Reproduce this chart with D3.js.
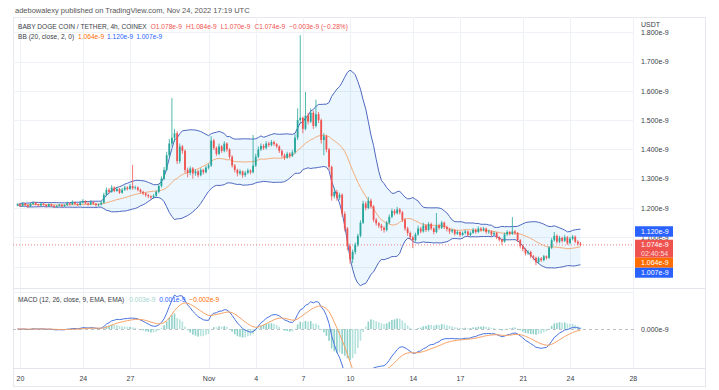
<!DOCTYPE html>
<html><head><meta charset="utf-8">
<script src="https://cdn.jsdelivr.net/npm/d3@7"></script>
<style>
html,body{margin:0;padding:0;background:#fff;}
svg{display:block;font-family:"Liberation Sans",Arial,sans-serif;}
</style></head><body>
<svg id="c" width="719" height="390"></svg>
<script>
// ---- DATA (prices in units of 1e-9 USDT, 4h candles from 2022-10-19 20:00 UTC) ----
const firstOpen = 1.210;
const closes = [
1.212,1.208,1.215,1.210,1.205,1.214,1.218,1.212,1.209,1.215,
1.211,1.206,1.213,1.208,1.204,1.207,1.211,1.206,1.210,1.216,
1.212,1.220,1.214,1.210,1.218,1.224,1.216,1.212,1.221,1.215,
1.210,1.212,1.218,1.245,1.262,1.255,1.270,1.258,1.265,1.252,
1.262,1.270,1.265,1.275,1.268,1.270,1.262,1.255,1.250,1.244,
1.240,1.236,1.242,1.255,1.275,1.300,1.330,1.380,1.420,1.440,
1.455,1.360,1.410,1.395,1.330,1.320,1.335,1.318,1.325,1.312,
1.330,1.322,1.338,1.345,1.430,1.405,1.385,1.410,1.395,1.420,
1.400,1.375,1.345,1.330,1.318,1.325,1.312,1.320,1.328,1.322,
1.345,1.375,1.400,1.412,1.405,1.420,1.415,1.425,1.418,1.410,
1.395,1.380,1.372,1.385,1.378,1.390,1.440,1.500,1.508,1.470,
1.515,1.495,1.525,1.480,1.520,1.500,1.432,1.445,1.400,1.340,
1.240,1.255,1.235,1.245,1.180,1.130,1.070,1.025,1.050,1.075,
1.105,1.150,1.215,1.200,1.225,1.205,1.160,1.148,1.140,1.132,
1.125,1.150,1.170,1.190,1.182,1.195,1.185,1.160,1.130,1.115,
1.100,1.090,1.110,1.130,1.120,1.140,1.125,1.145,1.130,1.118,
1.140,1.132,1.150,1.135,1.128,1.120,1.125,1.112,1.118,1.108,
1.115,1.120,1.108,1.115,1.125,1.118,1.130,1.125,1.130,1.118,
1.120,1.110,1.115,1.100,1.092,1.085,1.110,1.118,1.112,1.120,
1.115,1.090,1.070,1.060,1.045,1.050,1.035,1.030,1.015,1.028,
1.022,1.035,1.030,1.065,1.090,1.105,1.085,1.098,1.088,1.100,
1.080,1.095,1.102,1.085,1.078,1.074
];
const highs = [
1.216,1.215,1.219,1.218,1.213,1.217,1.222,1.220,1.214,1.218,
1.217,1.213,1.216,1.215,1.210,1.210,1.214,1.213,1.213,1.222,
1.218,1.226,1.222,1.216,1.224,1.230,1.226,1.219,1.226,1.223,
1.217,1.216,1.224,1.252,1.270,1.268,1.278,1.274,1.272,1.268,
1.268,1.276,1.274,1.282,1.347,1.276,1.274,1.266,1.259,1.253,
1.248,1.243,1.247,1.260,1.282,1.308,1.340,1.392,1.435,1.575,
1.470,1.462,1.420,1.415,1.400,1.338,1.342,1.340,1.332,1.330,
1.336,1.334,1.344,1.352,1.445,1.436,1.410,1.420,1.415,1.428,
1.424,1.404,1.380,1.350,1.334,1.332,1.328,1.327,1.335,1.332,
1.449,1.385,1.410,1.420,1.418,1.428,1.426,1.432,1.430,1.422,
1.414,1.400,1.386,1.392,1.390,1.398,1.452,1.540,1.790,1.512,
1.596,1.525,1.540,1.532,1.570,1.528,1.505,1.455,1.450,1.405,
1.345,1.268,1.262,1.252,1.250,1.188,1.135,1.078,1.058,1.082,
1.112,1.158,1.225,1.222,1.238,1.232,1.210,1.166,1.152,1.146,
1.138,1.156,1.178,1.198,1.196,1.204,1.200,1.190,1.165,1.136,
1.120,1.105,1.116,1.140,1.136,1.150,1.145,1.152,1.150,1.134,
1.183,1.146,1.156,1.154,1.140,1.132,1.130,1.128,1.124,1.121,
1.120,1.126,1.123,1.120,1.132,1.130,1.137,1.135,1.136,1.133,
1.126,1.124,1.120,1.118,1.104,1.096,1.116,1.124,1.122,1.169,
1.125,1.118,1.094,1.075,1.064,1.056,1.054,1.040,1.034,1.034,
1.032,1.040,1.038,1.070,1.098,1.118,1.110,1.105,1.102,1.108,
1.104,1.102,1.108,1.106,1.090,1.084
];
const lows = [
1.206,1.204,1.205,1.207,1.201,1.203,1.211,1.209,1.205,1.207,
1.208,1.203,1.204,1.205,1.200,1.202,1.205,1.203,1.204,1.208,
1.209,1.210,1.211,1.206,1.208,1.215,1.213,1.208,1.210,1.211,
1.205,1.206,1.209,1.215,1.240,1.250,1.252,1.254,1.255,1.248,
1.249,1.258,1.260,1.262,1.262,1.263,1.257,1.250,1.244,1.238,
1.234,1.230,1.232,1.238,1.250,1.270,1.295,1.325,1.372,1.410,
1.425,1.350,1.352,1.385,1.320,1.305,1.312,1.300,1.310,1.304,
1.308,1.315,1.318,1.332,1.340,1.398,1.378,1.380,1.388,1.390,
1.392,1.368,1.338,1.322,1.308,1.312,1.303,1.306,1.315,1.315,
1.318,1.340,1.370,1.395,1.398,1.400,1.408,1.410,1.412,1.404,
1.388,1.372,1.364,1.368,1.370,1.374,1.385,1.432,1.490,1.455,
1.465,1.485,1.490,1.470,1.475,1.490,1.420,1.380,1.390,1.330,
1.225,1.232,1.225,1.228,1.170,1.120,1.055,1.010,1.012,1.042,
1.068,1.100,1.145,1.192,1.196,1.198,1.152,1.140,1.132,1.122,
1.116,1.120,1.145,1.165,1.175,1.178,1.178,1.152,1.122,1.105,
1.090,1.063,1.085,1.105,1.114,1.116,1.118,1.120,1.124,1.110,
1.114,1.126,1.128,1.128,1.120,1.112,1.114,1.106,1.108,1.102,
1.104,1.110,1.102,1.104,1.112,1.112,1.115,1.119,1.120,1.112,
1.112,1.104,1.105,1.094,1.086,1.074,1.082,1.105,1.106,1.108,
1.108,1.084,1.062,1.052,1.038,1.040,1.028,1.022,1.005,1.010,
1.016,1.018,1.024,1.026,1.060,1.085,1.078,1.080,1.082,1.084,
1.074,1.076,1.090,1.080,1.072,1.070
];
const startTime = Date.UTC(2022, 9, 19, 20);
const tickDates = [[2022,9,20],[2022,9,24],[2022,9,27],[2022,10,1],[2022,10,4],[2022,10,7],[2022,10,10],[2022,10,14],[2022,10,17],[2022,10,21],[2022,10,24],[2022,10,28]];
const tickLabels = ["20","24","27","Nov","4","7","10","14","17","21","24","28"];
const priceTicks = [1.0,1.1,1.2,1.3,1.4,1.5,1.6,1.7,1.8];
const lastBar = {o:"1.078e-9", h:"1.084e-9", l:"1.070e-9", c:"1.074e-9", chg:"\u22120.003e-9 (\u22120.28%)", countdown:"02:40:54"};
const bbLegend = ["1.064e-9","1.120e-9","1.007e-9"];
const bbLast = [1.064, 1.120, 1.007];
const macdLegend = ["0.003e-9","0.001e-9","\u22120.002e-9"];

// ---- LAYOUT ----
const svg = d3.select("#c");
const L = 13, R = 634, AX = 706, PT = 17, PB = 288, MT = 290, MB = 368, TB = 386;
const GREEN = "#26a69a", RED = "#ef5350", BLUE = "#2962ff", ORANGE = "#ff6d00";
const grid = "#eef1f6";
const n = closes.length;
const opens = closes.map((c, i) => i ? closes[i - 1] : firstOpen);
const times = closes.map((c, i) => new Date(startTime + i * 4 * 3600e3));

const x = d3.scaleUtc().domain([new Date(Date.UTC(2022,9,20)), new Date(Date.UTC(2022,10,24))]).range([20, 570]);
const y = d3.scaleLinear().domain([1.0, 1.8]).range([266.6, 32.2]);

svg.append("rect").attr("width", 719).attr("height", 390).attr("fill", "#fff");
svg.append("rect").attr("x", L + 0.5).attr("y", PT + 0.5).attr("width", AX - L - 1).attr("height", TB - PT).attr("fill", "#fff").attr("stroke", "#e6e8ee");

const defs = svg.append("defs");
defs.append("clipPath").attr("id", "cp").append("rect").attr("x", L).attr("y", PT).attr("width", R - L).attr("height", PB - PT);
defs.append("clipPath").attr("id", "cm").append("rect").attr("x", L).attr("y", MT).attr("width", R - L).attr("height", MB - MT);

// grid
const tDates = tickDates.map(d => new Date(Date.UTC(d[0], d[1], d[2])));
svg.append("g").selectAll("line").data(priceTicks).join("line")
  .attr("x1", L).attr("x2", R).attr("y1", d => Math.round(y(d)) + 0.5).attr("y2", d => Math.round(y(d)) + 0.5)
  .attr("stroke", grid);
svg.append("g").selectAll("line").data(tDates.filter(d => x(d) < R)).join("line")
  .attr("y1", PT).attr("y2", MB).attr("x1", d => Math.round(x(d)) + 0.5).attr("x2", d => Math.round(x(d)) + 0.5)
  .attr("stroke", grid);
svg.append("line").attr("x1", L).attr("x2", R).attr("y1", 292.5).attr("y2", 292.5).attr("stroke", grid);
// separators
svg.append("line").attr("x1", L).attr("x2", AX).attr("y1", PB + 0.5).attr("y2", PB + 0.5).attr("stroke", "#e3e6ec");
svg.append("line").attr("x1", L).attr("x2", AX).attr("y1", MB + 0.5).attr("y2", MB + 0.5).attr("stroke", "#e3e6ec");

// Bollinger
const bb = closes.map((c, i) => {
  const w = closes.slice(Math.max(0, i - 19), i + 1);
  const m = d3.mean(w);
  const sd = Math.sqrt(d3.mean(w, v => (v - m) * (v - m)));
  return {t: times[i], m, u: m + 2 * sd, l: m - 2 * sd};
});
const gP = svg.append("g").attr("clip-path", "url(#cp)");
gP.append("path").datum(bb).attr("fill", "rgba(33,150,243,0.09)")
  .attr("d", d3.area().x(d => x(d.t)).y0(d => y(d.l)).y1(d => y(d.u)));
gP.append("path").datum(bb).attr("fill", "none").attr("stroke", "#4d68c0").attr("stroke-width", 1)
  .attr("d", d3.line().x(d => x(d.t)).y(d => y(d.u)));
gP.append("path").datum(bb).attr("fill", "none").attr("stroke", "#4d68c0").attr("stroke-width", 1)
  .attr("d", d3.line().x(d => x(d.t)).y(d => y(d.l)));
gP.append("path").datum(bb).attr("fill", "none").attr("stroke", "#f4a56e").attr("stroke-width", 0.9)
  .attr("d", d3.line().x(d => x(d.t)).y(d => y(d.m)));

// last price dotted line
gP.append("line").attr("x1", L).attr("x2", R).attr("y1", y(closes[n - 1])).attr("y2", y(closes[n - 1]))
  .attr("stroke", RED).attr("stroke-opacity", 0.7).attr("stroke-dasharray", "1,2");

// candles
const candles = closes.map((c, i) => ({t: times[i], o: opens[i], c, h: highs[i], l: lows[i]}));
const cg = gP.append("g").selectAll("g").data(candles).join("g");
cg.append("line").attr("x1", d => x(d.t)).attr("x2", d => x(d.t))
  .attr("y1", d => y(d.h)).attr("y2", d => y(d.l))
  .attr("stroke", d => d.c >= d.o ? GREEN : RED).attr("stroke-width", 0.8);
cg.append("rect").attr("x", d => x(d.t) - 0.9).attr("width", 1.8)
  .attr("y", d => y(Math.max(d.o, d.c)))
  .attr("height", d => Math.max(0.8, Math.abs(y(d.o) - y(d.c))))
  .attr("fill", d => d.c >= d.o ? GREEN : RED);

// MACD
function ema(arr, p) { const a = 2 / (p + 1); let prev = arr[0]; return arr.map(v => (prev = prev + a * (v - prev))); }
const e12 = ema(closes, 12), e26 = ema(closes, 26);
const macd = e12.map((v, i) => v - e26[i]);
const sig = ema(macd, 9);
const hist = macd.map((v, i) => v - sig[i]);
const maxEarly = d3.max(macd.slice(0, 100));
const ym = d3.scaleLinear().domain([0, maxEarly]).range([329, 295]);
const gM = svg.append("g").attr("clip-path", "url(#cm)");
gM.append("line").attr("x1", L).attr("x2", R).attr("y1", ym(0) + 0.5).attr("y2", ym(0) + 0.5)
  .attr("stroke", "#9598a1").attr("stroke-dasharray", "3,3").attr("stroke-opacity", 0.6);
gM.append("g").selectAll("rect").data(hist).join("rect")
  .attr("x", (d, i) => x(times[i]) - 0.8).attr("width", 1.6)
  .attr("y", d => Math.min(ym(d), ym(0))).attr("height", d => Math.abs(ym(d) - ym(0)))
  .attr("fill", (d, i) => (i && Math.abs(d) > Math.abs(hist[i - 1])) ? "#8fd1c9" : "#b6e3dd");
gM.append("path").datum(macd).attr("fill", "none").attr("stroke", "#4a74e0").attr("stroke-width", 1)
  .attr("d", d3.line().x((d, i) => x(times[i])).y(d => ym(d)));
gM.append("path").datum(sig).attr("fill", "none").attr("stroke", "#f7a266").attr("stroke-width", 1)
  .attr("d", d3.line().x((d, i) => x(times[i])).y(d => ym(d)));

// price labels on the axis (stacked like the reference)
const boxes = [
  {v: bbLast[1], h: 10.5, col: BLUE, t: [bbLegend[1]]},
  {v: closes[n - 1], h: 18, col: RED, t: [lastBar.c, lastBar.countdown]},
  {v: bbLast[0], h: 10, col: ORANGE, t: [bbLegend[0]]},
  {v: bbLast[2], h: 10, col: BLUE, t: [bbLegend[2]]}
];
let bottom = -1e9;
boxes.forEach(b => {
  let top = y(b.v) - 5.2;
  if (top < bottom) top = bottom;
  b.top = top; bottom = top + b.h;
});

// axes
const fontCol = "#3a3e48";
const visibleTicks = priceTicks.filter(p => !boxes.some(b => y(p) >= b.top && y(p) <= b.top + b.h));
const ax = svg.append("g").attr("transform", `translate(${R + 7},0)`)
  .call(d3.axisRight(y).tickValues(visibleTicks).tickSize(0).tickPadding(0).tickFormat(d => d.toFixed(3) + "e-9"));
ax.select(".domain").remove();
ax.selectAll("text").attr("font-size", 7).attr("fill", fontCol).attr("font-family", "Liberation Sans, Arial, sans-serif");
svg.append("text").attr("x", R + 7).attr("y", 27).attr("font-size", 7).attr("fill", fontCol).text("USDT");
svg.append("text").attr("x", R + 7).attr("y", ym(0) + 2.5).attr("font-size", 7).attr("fill", fontCol).text("0.000e-9");

const bx = svg.append("g").attr("transform", `translate(0,${MB + 8})`)
  .call(d3.axisBottom(x).tickValues(tDates).tickSize(0).tickPadding(0).tickFormat((d, i) => tickLabels[i]));
bx.select(".domain").remove();
bx.selectAll("text").attr("font-size", 7).attr("fill", fontCol).attr("font-family", "Liberation Sans, Arial, sans-serif");

const bg = svg.append("g").selectAll("g").data(boxes).join("g");
bg.append("rect").attr("x", R + 1).attr("y", d => d.top).attr("width", 38).attr("height", d => d.h).attr("fill", d => d.col);
bg.each(function(d) {
  d.t.forEach((s, j) => d3.select(this).append("text").attr("x", R + 7).attr("y", d.top + 7.6 + j * 8.5)
    .attr("font-size", 7).attr("fill", j ? "rgba(255,255,255,0.8)" : "#fff").text(s));
});

// header texts
svg.append("text").attr("x", 15).attr("y", 12.5).attr("font-size", 7.5).attr("fill", "#555").text("adebowalexy published on TradingView.com, Nov 24, 2022 17:19 UTC");
const FS = 6.6;
function legendLine(yPos, parts) {
  const t = svg.append("text").attr("x", 18).attr("y", yPos).attr("font-size", FS);
  parts.forEach((p, i) => t.append("tspan").attr("dx", i ? p[2] : 0).attr("fill", p[1]).text(p[0]));
}
legendLine(28.5, [
  ["BABY DOGE COIN / TETHER, 4h, COINEX", fontCol],
  ["O" + lastBar.o, RED, 4], ["H" + lastBar.h, RED, 4], ["L" + lastBar.l, RED, 4], ["C" + lastBar.c, RED, 4],
  [lastBar.chg, RED, 4]
]);
legendLine(38.5, [
  ["BB (20, close, 2, 0)", fontCol], [bbLegend[0], ORANGE, 4], [bbLegend[1], BLUE, 3], [bbLegend[2], BLUE, 3]
]);
legendLine(301.5, [
  ["MACD (12, 26, close, 9, EMA, EMA)", fontCol], [macdLegend[0], "#9fd6cf", 5], [macdLegend[1], BLUE, 4], [macdLegend[2], ORANGE, 4]
]);
</script>
</body></html>
